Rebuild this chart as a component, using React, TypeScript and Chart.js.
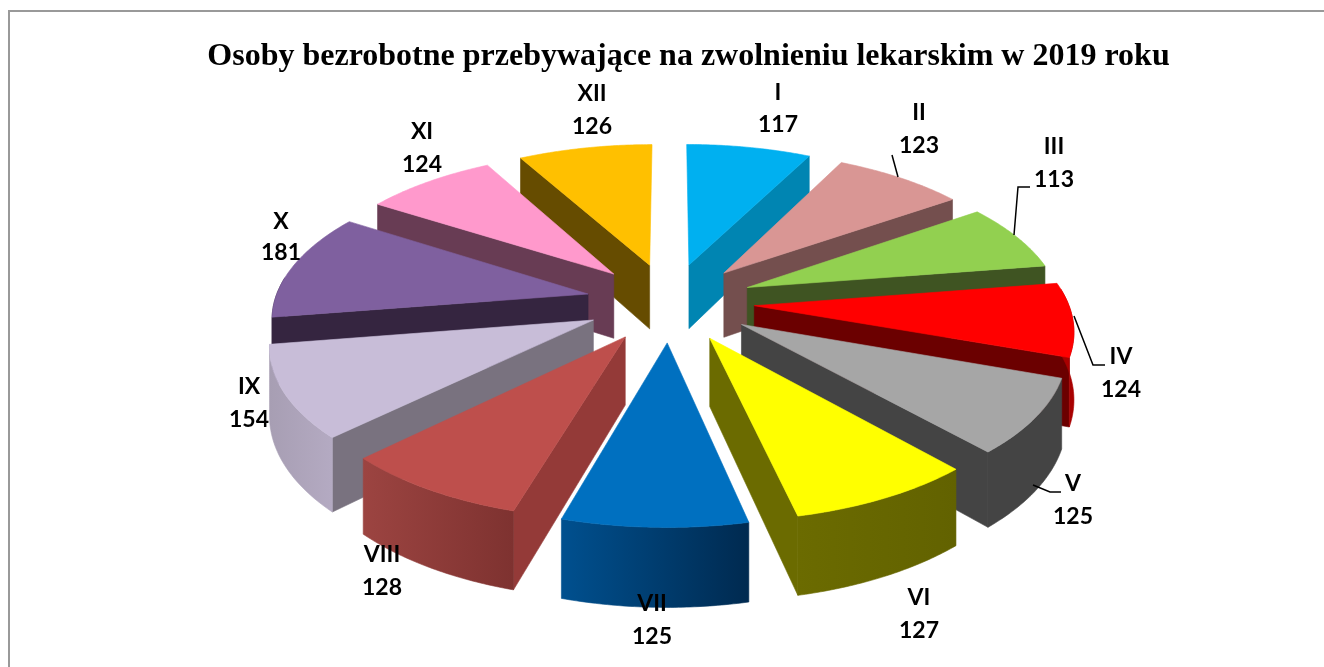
import React, { useEffect, useRef } from "react";
import { Chart, registerables } from "chart.js";

Chart.register(...registerables);

const TITLE = "Osoby bezrobotne przebywające na zwolnieniu lekarskim w 2019 roku";
const categories = ["I", "II", "III", "IV", "V", "VI", "VII", "VIII", "IX", "X", "XI", "XII"];
const values = [117, 123, 113, 124, 125, 127, 125, 128, 154, 181, 124, 126];
const topColors = ["#00B0F0", "#D99694", "#92D050", "#FF0000", "#A6A6A6", "#FFFF00", "#0070C0", "#BE4F4C", "#C8BDD8", "#7F609F", "#FF99CC", "#FFC000"];
const cutColors = ["#0085B2", "#744F4E", "#3F5422", "#6B0000", "#444444", "#6B6B00", "#00305A", "#943A38", "#79727F", "#352540", "#683C54", "#664C00"];
const rimLeft = ["#0085B2", "#744F4E", "#3F5422", "#A80000", "#444444", "#6B6B00", "#00508F", "#9C4441", "#A79EB3", "#352540", "#683C54", "#664C00"];
const rimRight = ["#0085B2", "#744F4E", "#3F5422", "#A80000", "#444444", "#626200", "#002A50", "#7E3230", "#B4AAC2", "#352540", "#683C54", "#664C00"];

// Label layout: [x of text centre, y of name line, y of value line]
const labelPlaces = [
  [778, 93, 125], [919, 113, 146], [1054, 147, 180], [1121, 357, 390], [1073, 484, 517], [919, 598, 631],
  [652, 604, 637], [382, 555, 588], [249, 387, 420], [281, 222, 253], [422, 132, 165], [592, 94, 127],
];
// Leader lines of labels
const leaders = [
  [[892, 155], [898, 177]],
  [[1030, 187], [1018, 187], [1014, 235]],
  [[1074, 316], [1093, 365], [1105, 365]],
  [[1033, 485], [1050, 492], [1061, 492]],
];

// View of the tilted pie
const VIEW = { cx: 670, cy: 302, rx: 398, ry: 186, persp: 0.175, depth: 66 };

function project(u: number, v: number, down: number) {
  const w = 1 / (1 - VIEW.persp * v);
  return { x: VIEW.cx + VIEW.rx * u * w, y: VIEW.cy + VIEW.ry * v * w + VIEW.depth * down * w };
}

function fillPoly(ctx: CanvasRenderingContext2D, pts: { x: number; y: number }[], fill: string | CanvasGradient) {
  ctx.beginPath();
  pts.forEach((p, i) => (i ? ctx.lineTo(p.x, p.y) : ctx.moveTo(p.x, p.y)));
  ctx.closePath();
  ctx.fillStyle = fill;
  ctx.strokeStyle = fill;
  ctx.lineWidth = 0.6;
  ctx.fill();
  ctx.stroke();
}

const tiltedPie = {
  id: "tiltedPie",
  beforeDatasetsDraw(chart: any) {
    const ctx: CanvasRenderingContext2D = chart.ctx;
    const arcs = chart.getDatasetMeta(0).data;
    const slices = arcs.map((arc: any, i: number) => {
      const off = arc.options.offset;
      const total = arc.outerRadius + off;
      const a0 = arc.startAngle + Math.PI / 2;
      const a1 = arc.endAngle + Math.PI / 2;
      const mid = (a0 + a1) / 2;
      return {
        i, a0, a1, r: arc.outerRadius / total,
        ax: (off / total) * Math.sin(mid),
        ay: (-off / total) * Math.cos(mid),
      };
    });
    slices.sort((p: any, q: any) => p.ay - q.ay);
    for (const s of slices) {
      const edge = (a: number) => ({ u: s.ax + s.r * Math.sin(a), v: s.ay - s.r * Math.cos(a) });
      const steps = 48;
      const outline: { u: number; v: number; a: number }[] = [];
      for (let k = 0; k <= steps; k++) {
        const a = s.a0 + ((s.a1 - s.a0) * k) / steps;
        outline.push({ ...edge(a), a });
      }
      const face = (a: number) => {
        const e = edge(a);
        fillPoly(ctx, [project(s.ax, s.ay, 0), project(e.u, e.v, 0), project(e.u, e.v, 1), project(s.ax, s.ay, 1)], cutColors[s.i]);
      };
      if (Math.sin(s.a0) < 0) face(s.a0);
      if (Math.sin(s.a1) > 0) face(s.a1);
      // outer rim, front-facing part only
      const front = outline.filter((o) => -Math.cos(o.a) > -0.12);
      if (front.length > 1) {
        const topEdge = front.map((o) => project(o.u, o.v, 0));
        const lowEdge = front.map((o) => project(o.u, o.v, 1));
        const grad = ctx.createLinearGradient(topEdge[0].x, 0, topEdge[topEdge.length - 1].x, 0);
        const ltr = topEdge[0].x < topEdge[topEdge.length - 1].x;
        grad.addColorStop(0, ltr ? rimLeft[s.i] : rimRight[s.i]);
        grad.addColorStop(1, ltr ? rimRight[s.i] : rimLeft[s.i]);
        fillPoly(ctx, [...topEdge, ...lowEdge.reverse()], grad);
      }
      // top surface
      fillPoly(ctx, [project(s.ax, s.ay, 0), ...outline.map((o) => project(o.u, o.v, 0))], topColors[s.i]);
    }
    return false;
  },
  afterDraw(chart: any) {
    const ctx: CanvasRenderingContext2D = chart.ctx;
    ctx.save();
    ctx.strokeStyle = "#000";
    ctx.lineWidth = 1.5;
    for (const line of leaders) {
      ctx.beginPath();
      line.forEach(([x, y], i) => (i ? ctx.lineTo(x, y) : ctx.moveTo(x, y)));
      ctx.stroke();
    }
    ctx.fillStyle = "#000";
    ctx.font = "bold 23px Lato";
    ctx.textAlign = "center";
    ctx.textBaseline = "middle";
    categories.forEach((c, i) => {
      const [x, y1, y2] = labelPlaces[i];
      ctx.fillText(c, x, y1);
      ctx.fillText(String(values[i]), x, y2);
    });
    ctx.restore();
  },
};

export default function App() {
  const ref = useRef<HTMLCanvasElement>(null);
  useEffect(() => {
    const chart = new Chart(ref.current!, {
      type: "pie",
      data: {
        labels: categories,
        datasets: [{ data: values, backgroundColor: topColors, offset: 70, borderWidth: 0 }],
      },
      options: {
        animation: false,
        responsive: false,
        layout: { padding: { top: 0, left: 53, right: 0, bottom: 0 } },
        plugins: {
          legend: { display: false },
          tooltip: { enabled: false },
          title: {
            display: true,
            fullSize: false,
            text: TITLE,
            color: "#000",
            font: { family: "'Liberation Serif'", size: 32, weight: "bold" },
            padding: { top: 38, bottom: 0 },
          },
        },
      },
      plugins: [tiltedPie],
    } as any);
    return () => chart.destroy();
  }, []);
  return (
    <div style={{ position: "absolute", left: 0, top: 0, width: 1324, height: 667, overflow: "hidden" }}>
      <div style={{ position: "absolute", left: 8, top: 10, width: 1316, height: 657, boxSizing: "border-box", borderTop: "2px solid #999", borderLeft: "2px solid #999" }} />
      <canvas ref={ref} width={1324} height={667} style={{ display: "block", position: "absolute", left: 0, top: 0 }} />
    </div>
  );
}
